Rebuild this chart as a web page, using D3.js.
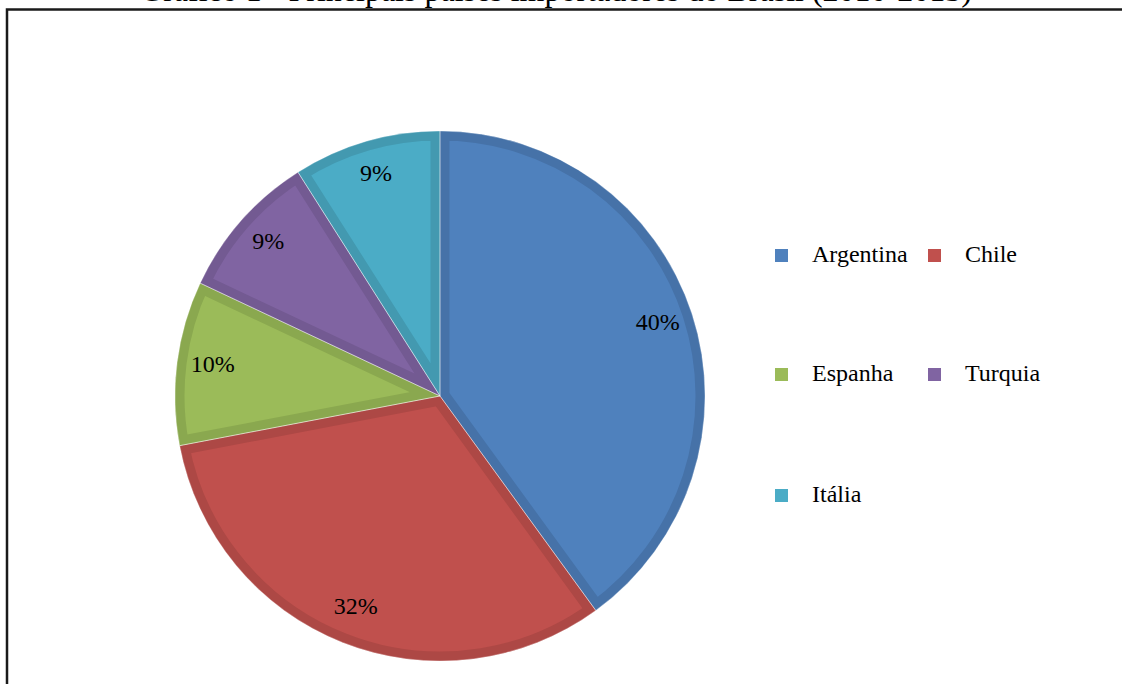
<!DOCTYPE html>
<html lang="pt">
<head>
<meta charset="utf-8">
<script src="https://cdn.jsdelivr.net/npm/d3@7"></script>
<style>
  html, body { margin: 0; padding: 0; background: #fff; }
  svg { display: block; }
  text { font-family: "Liberation Serif", "Times New Roman", serif; fill: #000; }
</style>
</head>
<body>
<svg id="chart" width="1122" height="684"></svg>
<script>
// Share of Brazilian exports by importing country (%)
const countries = ["Argentina", "Chile", "Espanha", "Turquia", "Itália"];
const shares = [40, 32, 10, 9, 9];
const fills = ["#4F81BD", "#C0504D", "#9BBB59", "#8064A2", "#4BACC6"];
const edges = ["#4672A8", "#AD4845", "#8AA84F", "#735A92", "#4399B0"];
const titleText = "Gráfico 1 - Principais países importadores do Brasil (2010-2013)";

const W = 1122, H = 684;
const svg = d3.select("#chart");

// Frame around the figure
svg.append("rect")
  .attr("x", 7).attr("y", 9.5)
  .attr("width", W + 20).attr("height", H + 20)
  .attr("fill", "none").attr("stroke", "#1a1a1a").attr("stroke-width", 2.5);

// Caption above the frame (page break leaves only its lower edge)
svg.append("text")
  .attr("x", 556).attr("y", 0.5)
  .attr("text-anchor", "middle")
  .attr("font-size", 32)
  .text(titleText);

const cx = 440, cy = 396, R = 265;
const g = svg.append("g").attr("transform", `translate(${cx},${cy})`);

const data = countries.map((c, i) => ({ name: c, value: shares[i], fill: fills[i], edge: edges[i] }));
const pie = d3.pie().value(d => d.value).sort(null);
const arcs = pie(data);
const arc = d3.arc().innerRadius(0).outerRadius(R);

const defs = svg.append("defs");
arcs.forEach((a, i) => {
  defs.append("clipPath").attr("id", "slice-clip-" + i)
    .append("path").attr("d", arc(a));
});

// Slices with an inner darker rim
g.selectAll("path.slice")
  .data(arcs)
  .join("path")
  .attr("class", "slice")
  .attr("d", arc)
  .attr("fill", d => d.data.fill)
  .attr("stroke", d => d.data.edge)
  .attr("stroke-width", 19)
  .attr("stroke-linejoin", "miter")
  .attr("clip-path", (d, i) => `url(#slice-clip-${i})`);

// Thin light seams between slices
g.selectAll("path.seam")
  .data(arcs)
  .join("path")
  .attr("class", "seam")
  .attr("d", arc)
  .attr("fill", "none")
  .attr("stroke", "rgba(255,255,255,0.45)")
  .attr("stroke-width", 0.8);

// Percentage labels
const labelArc = d3.arc().innerRadius(229).outerRadius(229);
g.selectAll("text.pct")
  .data(arcs)
  .join("text")
  .attr("class", "pct")
  .attr("transform", d => `translate(${labelArc.centroid(d)})`)
  .attr("text-anchor", "middle")
  .attr("dy", "0.2em")
  .attr("font-size", 24)
  .text(d => d.data.value + "%");

// Legend: two columns
const legend = svg.append("g");
const cols = [775, 928], rows = [249, 368, 489];
data.forEach((d, i) => {
  const x = cols[i % 2], y = rows[Math.floor(i / 2)];
  legend.append("rect")
    .attr("x", x).attr("y", y)
    .attr("width", 13).attr("height", 13)
    .attr("fill", d.fill);
  legend.append("text")
    .attr("x", x + 37).attr("y", y + 13)
    .attr("font-size", 24)
    .text(d.name);
});
</script>
</body>
</html>
